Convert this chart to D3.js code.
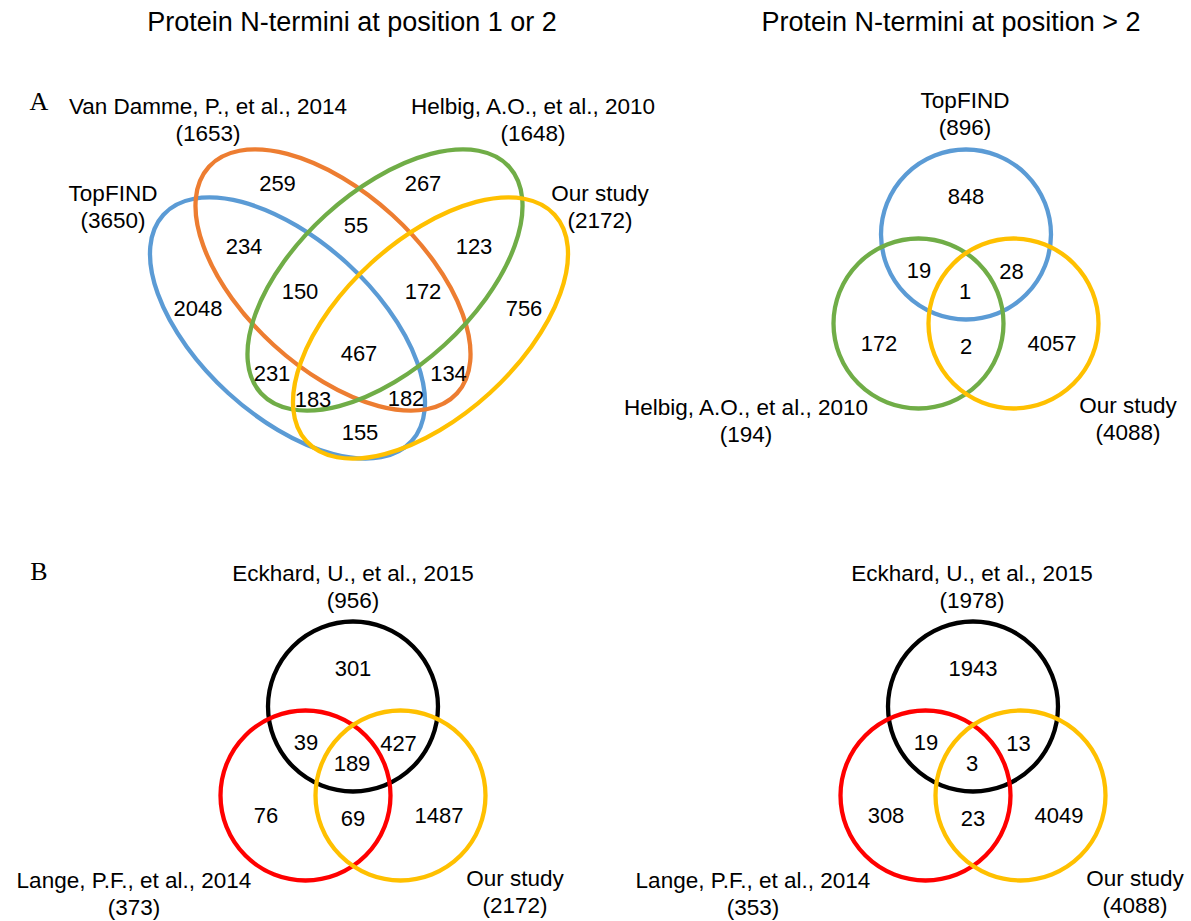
<!DOCTYPE html>
<html>
<head>
<meta charset="utf-8">
<script src="https://cdn.jsdelivr.net/npm/d3@7"></script>
<style>
  html, body { margin: 0; padding: 0; background: #fff; }
  svg { display: block; }
  text { font-family: "Liberation Sans", Arial, sans-serif; fill: #000; }
  .panel-letter { font-family: "Liberation Serif", "Times New Roman", serif; }
</style>
</head>
<body>
<script>
// ---------------- DATA ----------------
const columnTitles = ["Protein N-termini at position 1 or 2", "Protein N-termini at position > 2"];
const panelLetters = ["A", "B"];

// Panel A, left: four sets
const a1Sets   = ["TopFIND", "Van Damme, P., et al., 2014", "Helbig, A.O., et al., 2010", "Our study"];
const a1Totals = [3650, 1653, 1648, 2172];
const a1RegionKeys   = ["T", "V", "H", "O", "TV", "VH", "HO", "TVH", "VHO", "TVHO", "TH", "VO", "THO", "TVO", "TO"];
const a1RegionValues = [2048, 259, 267, 756, 234, 55, 123, 150, 172, 467, 231, 134, 183, 182, 155];

// Panel A, right: three sets
const a2Sets   = ["TopFIND", "Helbig, A.O., et al., 2010", "Our study"];
const a2Totals = [896, 194, 4088];
const a2RegionValues = [848, 172, 4057, 19, 28, 2, 1]; // top, left, right, top&left, top&right, left&right, all

// Panel B, left
const b1Sets   = ["Eckhard, U., et al., 2015", "Lange, P.F., et al., 2014", "Our study"];
const b1Totals = [956, 373, 2172];
const b1RegionValues = [301, 76, 1487, 39, 427, 69, 189];

// Panel B, right
const b2Sets   = ["Eckhard, U., et al., 2015", "Lange, P.F., et al., 2014", "Our study"];
const b2Totals = [1978, 353, 4088];
const b2RegionValues = [1943, 308, 4049, 19, 13, 23, 3];

const regionKeys3 = ["A", "B", "C", "AB", "AC", "BC", "ABC"];

// ---------------- LAYOUT / STYLE ----------------
const W = 1191, H = 921;
const STROKE = 4.3;
const NUM_FS = 22, LAB_FS = 22.5, TITLE_FS = 27;

const svg = d3.select("body").append("svg").attr("width", W).attr("height", H);

// titles
const titleX = d3.scaleOrdinal().domain(columnTitles).range([352, 951]);
svg.selectAll("text.title").data(columnTitles).join("text")
  .attr("class", "title")
  .attr("x", d => titleX(d)).attr("y", 22).attr("dy", "0.35em")
  .attr("text-anchor", "middle").style("font-size", TITLE_FS + "px")
  .text(d => d);

const letterY = d3.scaleOrdinal().domain(panelLetters).range([101, 571]);
svg.selectAll("text.panel-letter").data(panelLetters).join("text")
  .attr("class", "panel-letter")
  .attr("x", 39).attr("y", d => letterY(d)).attr("dy", "0.35em")
  .attr("text-anchor", "middle")
  .style("font-size", "26px")
  .text(d => d);

function drawSetLabels(g, xs, ys, sets, totals, offsets) {
  sets.forEach((s, i) => {
    const o = offsets[i];
    const t = g.append("text").attr("text-anchor", "middle").style("font-size", LAB_FS + "px");
    t.append("tspan").attr("x", xs(o[0])).attr("y", ys(o[1])).attr("dy", "0.35em").text(s);
    t.append("tspan").attr("x", xs(o[0])).attr("y", ys(o[1] + 27)).attr("dy", "0.35em").text("(" + totals[i] + ")");
  });
}

function drawRegionValues(g, xs, ys, keys, values, pos) {
  g.selectAll("text.num").data(keys.map((k, i) => ({ k, v: values[i] }))).join("text")
    .attr("class", "num")
    .attr("x", d => xs(pos[d.k][0])).attr("y", d => ys(pos[d.k][1])).attr("dy", "0.35em")
    .attr("text-anchor", "middle").style("font-size", NUM_FS + "px")
    .text(d => d.v);
}

// ----- Panel A left: four ellipses -----
(function () {
  const cx = 359, cy = 300;
  const xs = d3.scaleLinear().domain([-100, 100]).range([cx - 100, cx + 100]);
  const ys = d3.scaleLinear().domain([-100, 100]).range([cy - 100, cy + 100]);
  const a = 168, b = 88, ang = 42.4;
  const ellipses = [
    { set: 0, x: -71.5, y: 28,  rot: ang,  color: "#5B9BD5" },
    { set: 1, x: -26,   y: -20, rot: ang,  color: "#ED7D31" },
    { set: 2, x: 26,    y: -20, rot: -ang, color: "#70AD47" },
    { set: 3, x: 71.5,  y: 28,  rot: -ang, color: "#FFC000" }
  ];
  const g = svg.append("g");
  g.selectAll("ellipse").data(ellipses).join("ellipse")
    .attr("rx", a).attr("ry", b)
    .attr("transform", d => `translate(${xs(d.x)},${ys(d.y)}) rotate(${d.rot})`)
    .attr("fill", "none").attr("stroke", d => d.color).attr("stroke-width", STROKE);
  const pos = {
    T: [-161, 8], V: [-81.5, -117], H: [64, -117], O: [165, 8],
    TV: [-115, -54], VH: [-3, -75], HO: [115, -54],
    TVH: [-59, -9], VHO: [64, -9], TVHO: [0, 53],
    TH: [-87, 73], VO: [89.5, 73], THO: [-46, 99], TVO: [47, 98], TO: [1, 132]
  };
  drawRegionValues(g, xs, ys, a1RegionKeys, a1RegionValues, pos);
  drawSetLabels(g, xs, ys, a1Sets, a1Totals, [[-246, -107], [-151, -194], [174, -194], [241, -107]]);
})();

// ----- Three-circle panels -----
const circleOffsets3 = [[0, -44.5], [-47.5, 44.5], [47.5, 44.5]];
const regionPos3 = {
  A: [0, -83], B: [-87, 64.5], C: [86, 64.5],
  AB: [-47, -9], AC: [45.5, -7.5], BC: [0, 67.5], ABC: [-1, 12.5]
};
function drawThree(cx, cy, sets, totals, values, colors, labelOffsets) {
  const xs = d3.scaleLinear().domain([-100, 100]).range([cx - 100, cx + 100]);
  const ys = d3.scaleLinear().domain([-100, 100]).range([cy - 100, cy + 100]);
  const g = svg.append("g");
  g.selectAll("circle").data(circleOffsets3).join("circle")
    .attr("cx", d => xs(d[0])).attr("cy", d => ys(d[1]))
    .attr("r", 85)
    .attr("fill", "none").attr("stroke", (d, i) => colors[i]).attr("stroke-width", STROKE);
  drawRegionValues(g, xs, ys, regionKeys3, values, regionPos3);
  drawSetLabels(g, xs, ys, sets, totals, labelOffsets);
}

drawThree(966, 279, a2Sets, a2Totals, a2RegionValues, ["#5B9BD5", "#70AD47", "#FFC000"],
  [[-1, -179], [-220, 128], [162, 126]]);
drawThree(353, 751, b1Sets, b1Totals, b1RegionValues, ["#000000", "#FF0000", "#FFC000"],
  [[0, -178], [-219, 129], [162, 127]]);
drawThree(973, 751, b2Sets, b2Totals, b2RegionValues, ["#000000", "#FF0000", "#FFC000"],
  [[-1, -178], [-220, 129], [162, 127]]);
</script>
</body>
</html>
